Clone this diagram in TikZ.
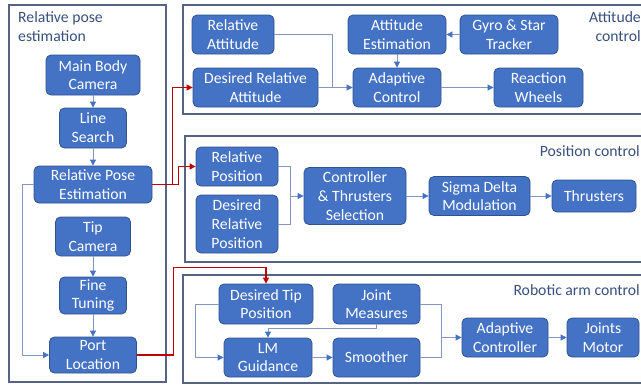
\documentclass[tikz,border=0pt]{standalone}
\usepackage{fontspec}
\setmainfont{Carlito}
\usetikzlibrary{arrows.meta,calc}
\definecolor{boxfill}{RGB}{68,114,196}
\definecolor{boxline}{RGB}{47,82,143}
\definecolor{framec}{RGB}{84,100,130}
\definecolor{titlec}{RGB}{55,80,125}
\definecolor{linec}{RGB}{132,151,190}
\definecolor{redc}{RGB}{192,0,0}
\tikzset{
  blk/.style={draw=boxline, fill=boxfill, line width=0.8pt, rounded corners=5pt,
    text=white, align=center, inner sep=0pt, font=\fontsize{15.7}{18.7}\selectfont},
  frm/.style={draw=framec, line width=1.1pt},
  ttl/.style={text=titlec, inner sep=0pt, font=\fontsize{15.7}{18.7}\selectfont},
  conn/.style={draw=linec, line width=0.8pt, -{Triangle[length=6pt,width=6pt,color=boxfill]}},
  plain/.style={draw=linec, line width=0.8pt},
  redconn/.style={draw=redc, line width=1.1pt, -{Triangle[length=6pt,width=6pt,color=redc]}},
}
\begin{document}
\begin{tikzpicture}[x=1pt,y=-1pt]
\useasboundingbox (0,0) rectangle (641,384);
% frames
\draw[frm] (9,5) rectangle (166,382);
\draw[frm] (183,5) rectangle (680,114);
\draw[frm] (185,136) rectangle (680,262);
\draw[frm] (183,275) rectangle (680,383);
% titles
\node[ttl, anchor=north west, align=left] (t1) at (18,11.5) {Relative pose\\estimation};
\node[ttl, anchor=north east, align=right] (t2) at (641,11.5) {Attitude\\control};
\node[ttl, anchor=east] (t3) at (640,151) {Position control};
\node[ttl, anchor=east] (t4) at (640,290) {Robotic arm control};
% left column
\node[blk, minimum width=94, minimum height=40] (mbc) at (93,75) {Main Body\\Camera};
\node[blk, minimum width=67, minimum height=40] (ls) at (93,128) {Line\\Search};
\node[blk, minimum width=118, minimum height=37] (rpe) at (93,184.5) {Relative Pose\\Estimation};
\node[blk, minimum width=75, minimum height=39] (tc) at (93,236.5) {Tip\\Camera};
\node[blk, minimum width=67, minimum height=37] (ft) at (93,295.5) {Fine\\Tuning};
\node[blk, minimum width=87, minimum height=36] (pl) at (93,355) {Port\\Location};
% attitude
\node[blk, minimum width=82, minimum height=39] (ra) at (233,34.5) {Relative\\Attitude};
\node[blk, minimum width=125, minimum height=39] (dra) at (255.5,87.5) {Desired Relative\\Attitude};
\node[blk, minimum width=98, minimum height=39] (ae) at (397,34.5) {Attitude\\Estimation};
\node[blk, minimum width=98, minimum height=39] (gst) at (509,34.5) {Gyro \& Star\\Tracker};
\node[blk, minimum width=88, minimum height=39] (ac) at (397,87.5) {Adaptive\\Control};
\node[blk, minimum width=89, minimum height=39] (rw) at (538.5,87.5) {Reaction\\Wheels};
% position
\node[blk, minimum width=82, minimum height=39] (rp) at (237,166.5) {Relative\\Position};
\node[blk, minimum width=82, minimum height=58] (drp) at (237,224) {Desired\\Relative\\Position};
\node[blk, minimum width=102, minimum height=57] (cts) at (355,196) {Controller\\\& Thrusters\\Selection};
\node[blk, minimum width=101, minimum height=39] (sdm) at (479.5,196) {Sigma Delta\\Modulation};
\node[blk, minimum width=84, minimum height=32] (th) at (594,196) {Thrusters};
% robotic arm
\node[blk, minimum width=94, minimum height=40] (dtp) at (266,304) {Desired Tip\\Position};
\node[blk, minimum width=87, minimum height=40] (jm) at (376.5,304) {Joint\\Measures};
\node[blk, minimum width=88, minimum height=39] (lm) at (268,357.5) {LM\\Guidance};
\node[blk, minimum width=87, minimum height=39] (sm) at (376.5,357.5) {Smoother};
\node[blk, minimum width=86, minimum height=39] (adc) at (505,337.5) {Adaptive\\Controller};
\node[blk, minimum width=72, minimum height=39] (jmo) at (603,337.5) {Joints\\Motor};
% left connectors
\draw[conn] (mbc) -- (ls);
\draw[conn] (ls) -- (rpe);
\draw[conn] (tc) -- (ft);
\draw[conn] (ft) -- (pl);
\draw[conn] (rpe.west) -- ++(-11,0) |- (pl.west);
% red connectors
\draw[redconn] (rpe.east) -- ++(20,0) |- (dra.west);
\draw[redconn] (rpe.east) -- ++(26,0) |- (rp.west);
\draw[redconn] (pl.east) -- ++(37,0) |- ([yshift=16pt]dtp.north) -- (dtp.north);
% attitude connectors
\coordinate (aj) at ($(ac.west)+(-20,0)$);
\draw[plain] (ra.east) -| (aj);
\draw[conn] (dra.east) -- (ac.west);
\draw[conn] (ae) -- (ac);
\draw[conn] (gst) -- (ae);
\draw[conn] (ac) -- (rw);
% position connectors
\coordinate (pj) at ($(cts.west)+(-13,0)$);
\draw[plain] (rp.east) -| (pj);
\draw[plain] (drp.east) -| (pj);
\draw[conn] (pj) -- (cts.west);
\draw[conn] (cts) -- (sdm);
\draw[conn] (sdm) -- (th);
% robotic connectors
\draw[conn] (dtp.west) -- ++(-23,0) |- (lm.west);
\draw[conn] (jm.south) -- ++(0,4) -| (lm.north);
\draw[conn] (lm) -- (sm);
\coordinate (rj) at ($(adc.west)+(-20,0)$);
\draw[plain] (jm.east) -| (rj);
\draw[plain] (sm.east) -| (rj);
\draw[conn] (rj) -- (adc.west);
\draw[conn] (adc) -- (jmo);
\end{tikzpicture}
\end{document}
